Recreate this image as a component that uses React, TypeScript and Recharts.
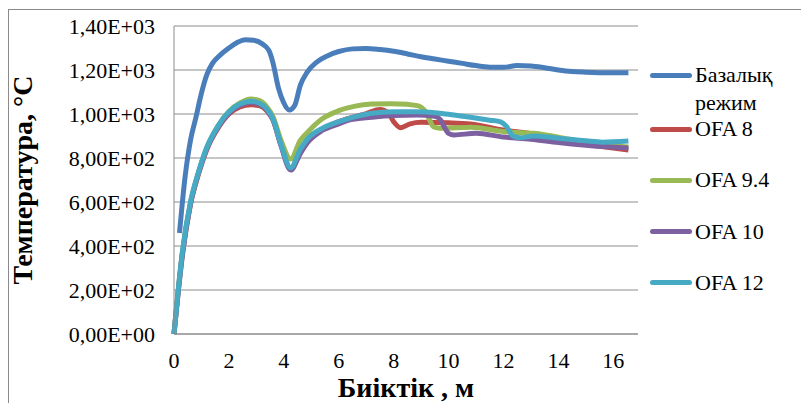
import { LineChart, Line, XAxis, YAxis, CartesianGrid } from 'recharts';

const serif = 'Liberation Serif, Times New Roman, DejaVu Serif, serif';

// Базалық режим
const baseX = [0.2, 0.4, 0.6, 0.8, 1.0, 1.2, 1.4, 1.7, 2.0, 2.3, 2.6, 2.9, 3.2, 3.45, 3.6, 3.8, 4.0, 4.2, 4.4, 4.6, 4.85, 5.2, 5.6, 6.0, 6.5, 7.0, 7.5, 8.0, 8.5, 9.0, 9.5, 10.0, 10.5, 11.0, 11.5, 12.0, 12.5, 13.0, 13.5, 14.0, 14.5, 15.0, 15.5, 16.0, 16.55];
const baseT = [459, 710, 880, 985, 1095, 1180, 1230, 1270, 1300, 1325, 1338, 1335, 1320, 1290, 1235, 1120, 1050, 1018, 1040, 1130, 1190, 1236, 1265, 1284, 1296, 1298, 1293, 1285, 1273, 1260, 1250, 1240, 1230, 1220, 1213, 1212, 1220, 1218, 1210, 1200, 1193, 1190, 1188, 1187, 1187];

// OFA 8
const ofa8X = [0, 0.3, 0.6, 0.9, 1.2, 1.6, 2.0, 2.4, 2.8, 3.1, 3.4, 3.6, 3.9, 4.25, 4.6, 4.85, 5.4, 6.0, 6.5, 7.0, 7.5, 7.8, 8.0, 8.25, 8.6, 9.0, 10.0, 10.8, 12.0, 13.0, 14.0, 15.0, 16.55];
const ofa8T = [0, 360, 590, 730, 840, 935, 1000, 1032, 1042, 1038, 1012, 975, 858, 752, 825, 872, 930, 965, 985, 1002, 1020, 1005, 965, 938, 955, 962, 960, 955, 927, 910, 885, 862, 836];

// OFA 9.4
const ofa94X = [0, 0.3, 0.6, 0.9, 1.2, 1.6, 2.0, 2.4, 2.8, 3.1, 3.4, 3.6, 3.9, 4.25, 4.6, 4.85, 5.4, 6.0, 6.6, 7.2, 7.9, 8.5, 8.9, 9.1, 9.3, 9.45, 9.7, 10.8, 12.0, 13.1, 14.0, 15.0, 16.55];
const ofa94T = [0, 360, 595, 735, 848, 945, 1012, 1050, 1068, 1062, 1030, 990, 880, 795, 880, 915, 978, 1015, 1036, 1045, 1047, 1044, 1037, 1020, 975, 942, 935, 940, 920, 912, 895, 870, 850];

// OFA 10
const ofa10X = [0, 0.3, 0.6, 0.9, 1.2, 1.6, 2.0, 2.4, 2.8, 3.1, 3.4, 3.6, 3.9, 4.25, 4.6, 4.85, 5.4, 6.0, 6.4, 7.2, 8.0, 8.85, 9.5, 9.7, 9.85, 10.0, 10.2, 11.0, 12.0, 13.0, 14.0, 15.0, 16.55];
const ofa10T = [0, 350, 590, 735, 845, 940, 1005, 1040, 1052, 1045, 1015, 975, 855, 745, 820, 868, 925, 955, 973, 985, 993, 995, 990, 975, 940, 912, 905, 912, 895, 885, 870, 858, 845];

// OFA 12
const ofa12X = [0, 0.3, 0.6, 0.9, 1.2, 1.6, 2.0, 2.4, 2.8, 3.1, 3.4, 3.6, 3.9, 4.25, 4.6, 4.85, 5.4, 6.0, 6.5, 7.2, 8.0, 8.8, 9.6, 10.2, 10.8, 11.5, 11.9, 12.1, 12.35, 12.6, 13.1, 14.0, 15.0, 15.6, 16.55];
const ofa12T = [0, 370, 600, 740, 850, 945, 1010, 1045, 1058, 1050, 1020, 980, 860, 755, 840, 885, 935, 965, 985, 1003, 1010, 1010, 1005, 995, 985, 972, 964, 945, 900, 892, 900, 890, 878, 872, 877];

const xTicks = [0, 2, 4, 6, 8, 10, 12, 14, 16];
const yTicks = [0, 200, 400, 600, 800, 1000, 1200, 1400];

const zip = (xs: number[], ts: number[]) => xs.map((x, i) => ({ x, t: ts[i] }));

const series = [
  { name: 'Базалық режим', color: '#4A7EBB', data: zip(baseX, baseT) },
  { name: 'OFA 8', color: '#BE4B48', data: zip(ofa8X, ofa8T) },
  { name: 'OFA 9.4', color: '#98B954', data: zip(ofa94X, ofa94T) },
  { name: 'OFA 10', color: '#7D60A0', data: zip(ofa10X, ofa10T) },
  { name: 'OFA 12', color: '#46AAC5', data: zip(ofa12X, ofa12T) },
];

// 1400 -> "1,40E+03"
const sci = (v: number) => {
  if (v === 0) return '0,00E+00';
  const e = Math.floor(Math.log10(Math.abs(v)));
  const m = (v / Math.pow(10, e)).toFixed(2).replace('.', ',');
  return `${m}E${e < 0 ? '-' : '+'}${String(Math.abs(e)).padStart(2, '0')}`;
};

const Legend = () => (
  <div style={{ position: 'absolute', left: 0, top: 0 }}>
    {series.map((s, i) => {
      const cy = i === 0 ? 75 : 129 + (i - 1) * 51.3;
      return (
        <div key={s.name}>
          <div
            style={{
              position: 'absolute', left: 650, top: cy - 2.5, width: 42, height: 5,
              borderRadius: 3, background: s.color,
            }}
          />
          <div
            style={{
              position: 'absolute', left: 695, top: cy - 14, width: 106,
              fontFamily: serif, fontSize: 22, lineHeight: '28px', color: '#000',
            }}
          >
            {i === 0 ? s.name.split(' ').map((w) => <div key={w}>{w}</div>) : s.name}
          </div>
        </div>
      );
    })}
  </div>
);

export default function App() {
  return (
    <div style={{ position: 'absolute', left: 0, top: 0, width: 801, height: 403, background: '#fff', overflow: 'hidden', fontFamily: serif }}>
      <div
        style={{
          position: 'absolute', left: 8, top: 9, width: 900, height: 500,
          borderTop: '1px solid #8a8a8a', borderLeft: '1px solid #8a8a8a',
        }}
      />
      <LineChart
        width={801}
        height={403}
        margin={{ top: 26, right: 163, bottom: 39, left: 74 }}
        style={{ position: 'absolute', left: 0, top: 0 }}
      >
        <CartesianGrid vertical={false} stroke="#8c8c8c" strokeWidth={1} />
        <XAxis
          dataKey="x"
          type="number"
          domain={[0, 16.9]}
          ticks={xTicks}
          allowDuplicatedCategory={false}
          height={30}
          tickLine={false}
          tickMargin={12}
          axisLine={{ stroke: '#8c8c8c' }}
          tick={{ fill: '#000', fontSize: 22, fontFamily: serif }}
          label={{
            value: 'Биіктік , м', position: 'insideBottom', offset: -33,
            style: { fontFamily: serif, fontSize: 28, fontWeight: 'bold', fill: '#000' },
          }}
        />
        <YAxis
          type="number"
          domain={[0, 1400]}
          ticks={yTicks}
          width={100}
          tickLine={false}
          tickMargin={13}
          tickFormatter={sci}
          axisLine={{ stroke: '#8c8c8c' }}
          tick={{ fill: '#000', fontSize: 22, fontFamily: serif }}
          label={{
            value: 'Температура, °C', angle: -90, position: 'insideLeft', offset: -52,
            style: { fontFamily: serif, fontSize: 28, fontWeight: 'bold', fill: '#000', textAnchor: 'middle' },
          }}
        />
        {series.map((s) => (
          <Line
            key={s.name}
            data={s.data}
            dataKey="t"
            name={s.name}
            type="monotone"
            stroke={s.color}
            strokeWidth={5}
            dot={false}
            activeDot={false}
            isAnimationActive={false}
          />
        ))}
      </LineChart>
      <Legend />
    </div>
  );
}
